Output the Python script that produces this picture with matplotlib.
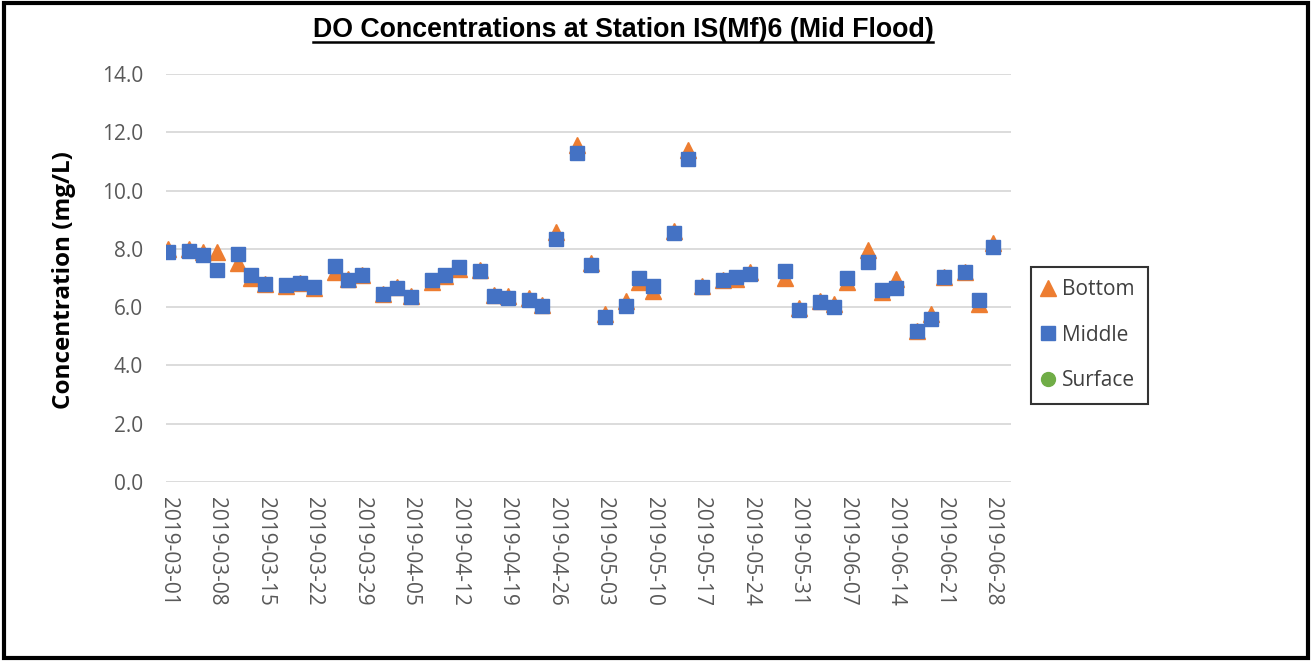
import matplotlib
matplotlib.use("Agg")
import matplotlib.pyplot as plt
import matplotlib.dates as mdates
from matplotlib.patches import Rectangle
from matplotlib.lines import Line2D
import pandas as pd

dates = ["2019-03-01", "2019-03-04", "2019-03-06", "2019-03-08", "2019-03-11",
         "2019-03-13", "2019-03-15", "2019-03-18", "2019-03-20", "2019-03-22",
         "2019-03-25", "2019-03-27", "2019-03-29", "2019-04-01", "2019-04-03",
         "2019-04-05", "2019-04-08", "2019-04-10", "2019-04-12", "2019-04-15",
         "2019-04-17", "2019-04-19", "2019-04-22", "2019-04-24", "2019-04-26",
         "2019-04-29", "2019-05-01", "2019-05-03", "2019-05-06", "2019-05-08",
         "2019-05-10", "2019-05-13", "2019-05-15", "2019-05-17", "2019-05-20",
         "2019-05-22", "2019-05-24", "2019-05-29", "2019-05-31", "2019-06-03",
         "2019-06-05", "2019-06-07", "2019-06-10", "2019-06-12", "2019-06-14",
         "2019-06-17", "2019-06-19", "2019-06-21", "2019-06-24", "2019-06-26",
         "2019-06-28"]

middle = [7.88, 7.92, 7.79, 7.26, 7.81, 7.10, 6.81, 6.77, 6.84, 6.69,
          7.41, 6.93, 7.09, 6.46, 6.65, 6.36, 6.92, 7.11, 7.39, 7.25,
          6.38, 6.33, 6.26, 6.03, 8.33, 11.28, 7.44, 5.66, 6.03, 7.01,
          6.74, 8.53, 11.08, 6.68, 6.93, 7.05, 7.15, 7.24, 5.89, 6.19,
          6.00, 7.01, 7.56, 6.59, 6.65, 5.17, 5.58, 7.03, 7.20, 6.25,
          8.06]

bottom = [8.00, 8.00, 7.90, 7.90, 7.50, 7.00, 6.78, 6.74, 6.83, 6.66,
          7.20, 6.95, 7.10, 6.45, 6.68, 6.37, 6.88, 7.06, 7.32, 7.28,
          6.42, 6.37, 6.30, 6.06, 8.57, 11.55, 7.50, 5.75, 6.20, 6.85,
          6.56, 8.60, 11.40, 6.72, 6.93, 6.97, 7.22, 7.00, 5.97, 6.20,
          6.10, 6.87, 7.95, 6.52, 6.98, 5.17, 5.77, 7.03, 7.22, 6.10,
          8.20]

# surface series is in the legend but has no visible points
surface_dates = []
surface = []

x = pd.to_datetime(dates)
xs = pd.to_datetime(surface_dates)

plt.rcParams['font.family'] = ['Open Sans', 'DejaVu Sans']

fig = plt.figure(figsize=(13.12, 6.61), dpi=100)
ax = fig.add_axes([0.1265, 0.2708, 0.644, 0.6172])

ax.plot(x, bottom, linestyle='none', marker='^', markersize=11,
        color='#ED7D31', label='Bottom', zorder=3)
ax.plot(x, middle, linestyle='none', marker='s', markersize=10.5,
        color='#4472C4', label='Middle', zorder=4)
ax.plot(xs, surface, linestyle='none', marker='o', markersize=10,
        color='#70AD47', label='Surface', zorder=5)

ax.set_ylim(0, 14)
ax.set_yticks([0, 2, 4, 6, 8, 10, 12, 14])
ax.set_yticklabels(["%.1f" % v for v in ax.get_yticks()])

start = pd.Timestamp("2019-03-01")
ax.set_xlim(start - pd.Timedelta(hours=8), start + pd.Timedelta(days=121.6))
ax.set_xticks(pd.date_range("2019-03-01", "2019-06-28", freq="7D"))
ax.xaxis.set_major_formatter(mdates.DateFormatter("%Y-%m-%d"))

ax.grid(axis='y', color='#D9D9D9', linewidth=1.3)
ax.set_axisbelow(True)
for s in ax.spines.values():
    s.set_visible(False)
ax.tick_params(length=0, labelsize=15, colors='#595959')
ax.tick_params(axis='x', pad=11)
ax.tick_params(axis='y', pad=16.5)
for lab in ax.get_xticklabels():
    lab.set_rotation(270)
    lab.set_va('top')
    lab.set_ha('center')

ax.set_ylabel("Concentration (mg/L)", fontsize=17.5, fontweight='bold')
ax.yaxis.set_label_coords(-0.106, 0.495)

leg = ax.legend(loc='center left', bbox_to_anchor=(1.0237, 0.36), fontsize=15,
                frameon=True, fancybox=False, edgecolor='black',
                labelspacing=1.18, handletextpad=0.45, handlelength=0.45,
                borderpad=0.6, borderaxespad=0)
leg.get_frame().set_linewidth(1.5)
for t in leg.get_texts():
    t.set_color('#404040')

title = fig.text(0.4748, 0.955, "DO Concentrations at Station IS(Mf)6 (Mid Flood)",
                 ha='center', va='center', fontsize=19.3, fontweight='bold',
                 family=['Liberation Sans', 'DejaVu Sans'])

fig.patches.append(Rectangle((0.003, 0.004), 0.994, 0.992, transform=fig.transFigure,
                             fill=False, edgecolor='black', linewidth=3))

fig.canvas.draw()
bb = title.get_window_extent().transformed(fig.transFigure.inverted())
fig.lines.append(Line2D([bb.x0, bb.x1], [bb.y0 + 0.001, bb.y0 + 0.001],
                        transform=fig.transFigure, color='black', linewidth=1.8))

fig.savefig("out.png", dpi=100)
